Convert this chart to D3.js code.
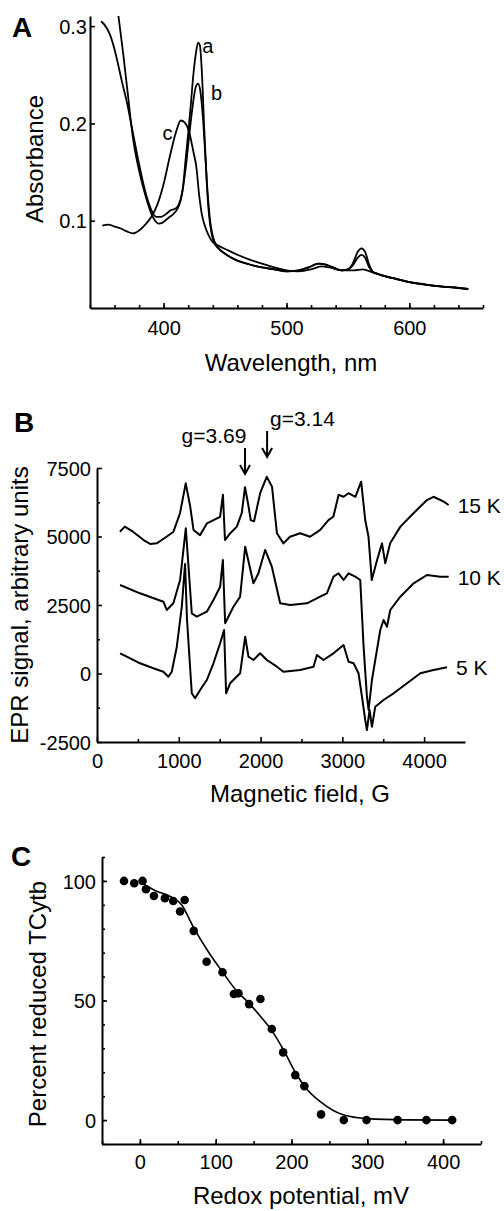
<!DOCTYPE html>
<html><head><meta charset="utf-8">
<script src="https://cdn.jsdelivr.net/npm/d3@7"></script>
<style>body{margin:0;background:#fff}svg{display:block;background:#fff}</style>
</head><body><svg id="fig" width="504" height="1211"></svg>
<script>
// ---------------- DATA ----------------
// Panel A: absorption spectra [wavelength nm, absorbance]
const wavelengthTicks = [400, 500, 600];
const absorbanceTicks = [0.1, 0.2, 0.3];
const spectrumA = [[363,0.312],[365,0.292],[367,0.272],[369,0.25],[371,0.228],[373,0.205],[375,0.185],[378,0.163],[381,0.146],[384,0.131],[387,0.118],[390,0.107],[393,0.1],[396,0.097],[399,0.098],[402,0.101],[405,0.104],[408,0.107],[411,0.112],[414,0.122],[416,0.138],[418,0.165],[420,0.19],[422,0.218],[424,0.248],[426,0.27],[428,0.283],[429.5,0.28],[431,0.255],[433,0.195],[435,0.14],[437,0.105],[439,0.087],[441,0.078],[445,0.071],[450,0.066],[460,0.059],[470,0.055],[480,0.052],[490,0.05],[500,0.048],[510,0.049],[518,0.052],[526,0.056],[532,0.055],[538,0.052],[545,0.049],[550,0.05],[554,0.056],[558,0.068],[561,0.0716],[564,0.068],[567,0.056],[570,0.048],[575,0.045],[580,0.043],[590,0.04],[600,0.037],[610,0.035],[620,0.033],[630,0.032],[640,0.031],[648,0.030]];
const spectrumB = [[349,0.305],[352,0.301],[356,0.292],[360,0.276],[363,0.26],[366,0.243],[370,0.222],[375,0.19],[380,0.158],[385,0.13],[390,0.111],[394,0.104],[398,0.104],[402,0.107],[406,0.111],[409,0.112],[412,0.116],[415,0.128],[418,0.155],[421,0.19],[424,0.222],[426,0.237],[428,0.241],[430,0.232],[432,0.205],[434,0.165],[436,0.125],[438,0.098],[440,0.084],[444,0.073],[450,0.066],[460,0.059],[470,0.055],[480,0.052],[490,0.05],[500,0.048],[510,0.049],[518,0.052],[526,0.056],[532,0.055],[538,0.052],[545,0.049],[550,0.05],[554,0.054],[558,0.062],[561,0.065],[564,0.062],[567,0.053],[570,0.048],[575,0.045],[580,0.043],[590,0.04],[600,0.037],[610,0.035],[620,0.033],[630,0.032],[640,0.031],[648,0.030]];
const spectrumC = [[350,0.095],[355,0.096],[360,0.094],[365,0.092],[370,0.089],[375,0.087],[380,0.09],[385,0.096],[390,0.104],[395,0.117],[400,0.138],[405,0.166],[410,0.191],[414,0.203],[417,0.201],[421,0.19],[424,0.172],[426.5,0.156],[429,0.125],[431,0.107],[434,0.093],[437,0.084],[440,0.078],[445,0.074],[450,0.071],[460,0.065],[470,0.06],[480,0.056],[490,0.052],[500,0.049],[510,0.048],[520,0.05],[528,0.053],[535,0.052],[545,0.049],[555,0.049],[562,0.05],[570,0.047],[580,0.043],[590,0.04],[600,0.037],[615,0.034],[630,0.032],[648,0.0295]];
const spectrumLabels = ["a", "b", "c"];

// Panel B: EPR spectra [field G, signal]
const fieldTicks = [0, 1000, 2000, 3000, 4000];
const eprTicks = [-2500, 0, 2500, 5000, 7500];
const epr15K = [[280,5175],[340,5360],[440,5175],[570,4870],[650,4730],[730,4750],[850,4990],[935,5175],[1015,5850],[1085,6940],[1140,6090],[1180,5240],[1260,5050],[1345,5480],[1425,5600],[1505,5720],[1540,6520],[1565,4870],[1630,5120],[1710,5360],[1770,5850],[1810,6800],[1850,6150],[1880,5600],[1920,5550],[1995,6580],[2075,7180],[2140,6820],[2200,5120],[2280,4750],[2360,4990],[2485,5120],[2605,4990],[2730,5240],[2830,5600],[2890,5720],[2955,6520],[3015,6450],[3075,6580],[3160,6450],[3230,7000],[3280,5600],[3320,4990],[3360,3410],[3425,4140],[3485,4750],[3525,4020],[3585,4750],[3710,5360],[3870,5850],[4035,6330],[4115,6450],[4240,6270],[4300,6150]];
const epr10K = [[282,3230],[526,2927],[812,2620],[853,2318],[934,2562],[1016,3413],[1086,5300],[1159,2197],[1220,2073],[1343,2256],[1424,2683],[1506,3168],[1539,4143],[1567,1832],[1668,2438],[1750,2803],[1812,4628],[1913,3292],[1974,3657],[2056,4508],[2138,3898],[2240,2562],[2362,2500],[2567,2562],[2729,2803],[2811,2927],[2892,3533],[2953,3657],[3015,3413],[3076,3657],[3158,3533],[3219,3413],[3260,978],[3301,-847],[3321,-1332],[3362,-237],[3464,1588],[3504,1953],[3546,1708],[3586,2318],[3709,2803],[3872,3292],[4035,3595],[4198,3533],[4300,3533]];
const epr5K = [[282,737],[364,613],[526,372],[689,190],[812,66],[873,-117],[914,66],[976,978],[1037,2438],[1077,4000],[1100,2000],[1159,-723],[1200,-905],[1261,-602],[1343,-237],[1424,372],[1506,1102],[1554,1588],[1579,-723],[1628,-358],[1750,7],[1812,1343],[1852,613],[1913,493],[1995,737],[2077,493],[2200,248],[2280,66],[2485,128],[2648,248],[2689,675],[2770,493],[2892,737],[3015,1040],[3076,431],[3137,372],[3198,7],[3240,-847],[3280,-1697],[3301,-2062],[3333,-1332],[3362,-1942],[3403,-1212],[3504,-967],[3627,-723],[3791,-358],[3954,7],[4116,128],[4280,226]];
const eprLabels = ["15 K", "10 K", "5 K"];
const gMarkers = [{field: 1810, label: "g=3.69"}, {field: 2080, label: "g=3.14"}];

// Panel C: redox titration
const redoxTicks = [0, 100, 200, 300, 400];
const percentTicks = [0, 50, 100];
const redoxPoints = [[-21,100],[-7.5,99],[3.5,100],[8,96.5],[18.5,93.7],[33,92.8],[44,91.6],[59,92],[53,87.2],[71,79.1],[88,66.2],[109,61.8],[124,52.7],[130,53],[144,48.5],[159,50.6],[174,38.1],[189,28.3],[205,18.8],[217,14.2],[239,2.4],[269,0],[299,0],[340,0],[378,0],[412,0]];
const redoxFit = [[3,99],[20,96],[40,93.5],[55,90],[70,81],[90,70.5],[110,61.5],[125,55],[145,48.5],[160,43],[175,37],[190,29],[205,20],[220,13],[238,7.7],[268,2.2],[300,0.6],[350,0.1],[412,0]];

// ---------------- DRAWING ----------------
const FONT = '"Liberation Sans", Arial, Helvetica, sans-serif';
const svg = d3.select("#fig");
const plainInt = d => String(d);

function styleAxis(g, size) {
  g.attr("font-family", FONT).attr("font-size", size);
  g.selectAll(".domain").attr("stroke", "#000").attr("stroke-width", 2);
  g.selectAll(".tick line").attr("stroke", "#000").attr("stroke-width", 1.6);
  g.selectAll(".tick text").attr("fill", "#000");
}

function axes(x, y, o) {
  const y0 = y.range()[0], x0 = x.range()[0];
  const mx = svg.append("g").attr("transform", `translate(0,${y0})`)
    .call(d3.axisBottom(x).tickValues(o.xMinor).tickSize(-3).tickFormat(""));
  mx.select(".domain").remove(); styleAxis(mx, 20);
  const my = svg.append("g").attr("transform", `translate(${x0},0)`)
    .call(d3.axisLeft(y).tickValues(o.yMinor).tickSize(-3).tickFormat(""));
  my.select(".domain").remove(); styleAxis(my, 20);
  const gx = svg.append("g").attr("transform", `translate(0,${y0})`)
    .call(d3.axisBottom(x).tickValues(o.xMajor).tickSizeInner(-5).tickSizeOuter(0).tickFormat(o.xFmt));
  styleAxis(gx, 20);
  gx.selectAll(".tick text").attr("y", o.xLabelY).attr("dy", null);
  const gy = svg.append("g").attr("transform", `translate(${x0},0)`)
    .call(d3.axisLeft(y).tickValues(o.yMajor).tickSizeInner(-5).tickSizeOuter(0).tickFormat(o.yFmt));
  styleAxis(gy, 20);
  gy.selectAll(".tick text").attr("x", o.yLabelX).attr("dy", "0.36em");
}

function text(x, y, s, opt = {}) {
  const t = svg.append("text").attr("x", x).attr("y", y).text(s)
    .attr("font-family", FONT).attr("font-size", opt.size || 20).attr("fill", "#000")
    .attr("text-anchor", opt.anchor || "start");
  if (opt.bold) t.attr("font-weight", "bold");
  if (opt.rotate) t.attr("x", null).attr("y", null).attr("transform", `translate(${x},${y}) rotate(-90)`);
  return t;
}

// ===== Panel A =====
const xA = d3.scaleLinear().domain([340, 660]).range([90, 483]);
const yA = d3.scaleLinear().domain([0.0103, 0.3104]).range([308, 16]);
svg.append("clipPath").attr("id", "clipA").append("rect")
  .attr("x", 90).attr("y", 16).attr("width", 393).attr("height", 292);
const lineA = d3.line().x(d => xA(d[0])).y(d => yA(d[1])).curve(d3.curveMonotoneX);
svg.append("g").attr("clip-path", "url(#clipA)").selectAll("path")
  .data([spectrumA, spectrumB, spectrumC]).join("path")
  .attr("d", lineA).attr("fill", "none").attr("stroke", "#000").attr("stroke-width", 1.8);
axes(xA, yA, {
  xMinor: xA.ticks(16), yMinor: [], xMajor: wavelengthTicks, yMajor: absorbanceTicks,
  xFmt: plainInt, yFmt: d3.format(".1f"), xLabelY: 27, yLabelX: -3
});
text(xA(431.5), yA(0.272), spectrumLabels[0]);
text(xA(438.5), yA(0.224), spectrumLabels[1]);
text(xA(399), yA(0.183), spectrumLabels[2]);
text(43, 159, "Absorbance", {size: 24, anchor: "middle", rotate: true});
text(291, 371, "Wavelength, nm", {size: 24, anchor: "middle"});
text(12, 37, "A", {size: 28, bold: true});

// ===== Panel B =====
const xB = d3.scaleLinear().domain([0, 4500]).range([97, 465]);
const yB = d3.scaleLinear().domain([-2500, 7500]).range([742, 468]);
const lineB = d3.line().x(d => xB(d[0])).y(d => yB(d[1]));
svg.append("g").selectAll("path").data([epr15K, epr10K, epr5K]).join("path")
  .attr("d", lineB).attr("fill", "none").attr("stroke", "#000")
  .attr("stroke-width", 2).attr("stroke-linejoin", "round");
axes(xB, yB, {
  xMinor: d3.range(500, 4500, 1000), yMinor: d3.range(-1250, 7500, 2500),
  xMajor: fieldTicks, yMajor: eprTicks, xFmt: plainInt, yFmt: plainInt,
  xLabelY: 26, yLabelX: -6
});
[epr15K, epr10K, epr5K].forEach((s, i) => {
  const last = s[s.length - 1];
  text(xB(last[0]) + 9, yB(last[1]) + 8, eprLabels[i], {size: 21});
});
const arrowTops = [448, 431];
const labelPos = [[214, 443, "middle"], [270, 426, "start"]];
gMarkers.forEach((m, i) => {
  const x = xB(m.field), yt = arrowTops[i], yb = yt + 26;
  svg.append("path").attr("d", `M${x},${yt}V${yb}M${x-5},${yb-9}L${x},${yb}L${x+5},${yb-9}`)
    .attr("fill", "none").attr("stroke", "#000").attr("stroke-width", 2);
  text(labelPos[i][0], labelPos[i][1], m.label, {size: 21, anchor: labelPos[i][2]});
});
text(28, 605, "EPR signal, arbitrary units", {size: 24, anchor: "middle", rotate: true});
text(300, 802, "Magnetic field, G", {size: 24, anchor: "middle"});
text(14, 432, "B", {size: 28, bold: true});

// ===== Panel C =====
const xC = d3.scaleLinear().domain([-50, 450]).range([102, 481]);
const yC = d3.scaleLinear().domain([-10, 110]).range([1144, 857]);
svg.append("path").datum(redoxFit)
  .attr("d", d3.line().x(d => xC(d[0])).y(d => yC(d[1])).curve(d3.curveMonotoneX))
  .attr("fill", "none").attr("stroke", "#000").attr("stroke-width", 1.6);
svg.append("g").selectAll("circle").data(redoxPoints).join("circle")
  .attr("cx", d => xC(d[0])).attr("cy", d => yC(d[1])).attr("r", 4.3).attr("fill", "#000");
axes(xC, yC, {
  xMinor: d3.range(-50, 451, 50), yMinor: d3.range(-10, 111, 10),
  xMajor: redoxTicks, yMajor: percentTicks, xFmt: plainInt, yFmt: plainInt,
  xLabelY: 25, yLabelX: -6
});
text(46, 1004, "Percent reduced TCytb", {size: 24, anchor: "middle", rotate: true});
text(301, 1204, "Redox potential, mV", {size: 24, anchor: "middle"});
text(11, 866, "C", {size: 28, bold: true});
</script></body></html>
